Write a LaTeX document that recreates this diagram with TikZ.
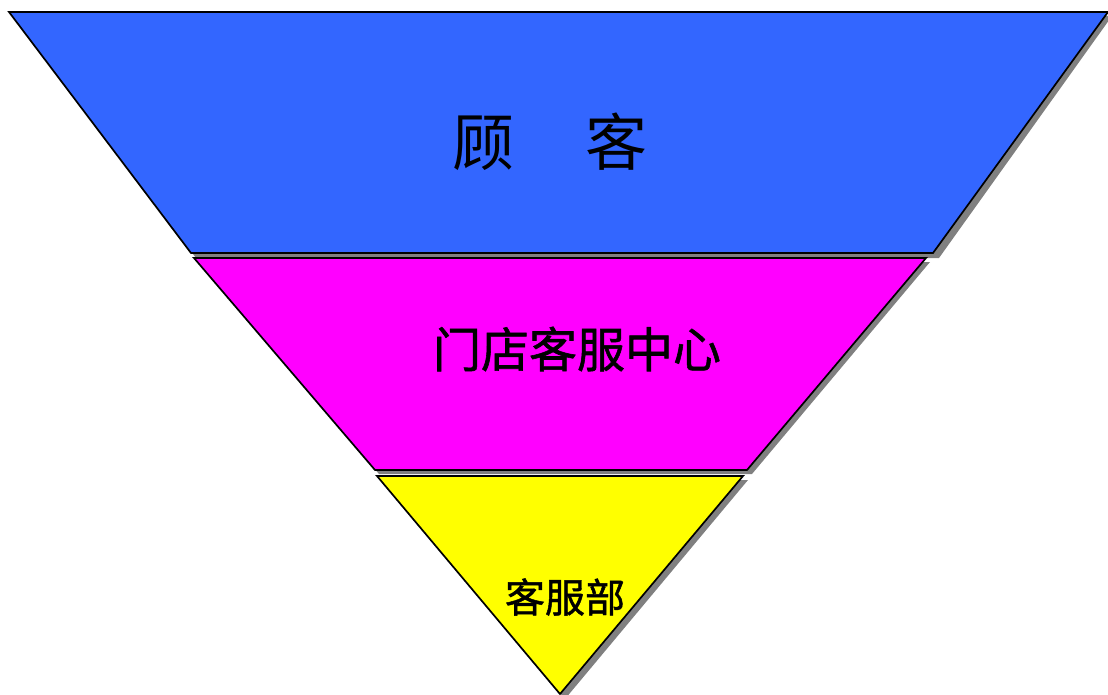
\documentclass[tikz,border=0pt]{standalone}
\usepackage{fontspec}
\newfontfamily\cjk{Noto Sans CJK SC}
\newfontfamily\cjkheavy[FakeBold=1.2]{Noto Sans CJK SC}
\definecolor{bandblue}{RGB}{51,102,255}
\definecolor{bandmag}{RGB}{255,0,255}
\definecolor{bandyel}{RGB}{255,255,0}
\definecolor{shadowgray}{RGB}{128,128,128}
\tikzset{
  band/.style={draw=black, line width=1.7pt, line join=miter},
  label/.style={text=black, inner sep=0pt}
}
\begin{document}
\begin{tikzpicture}[x=1pt,y=-1pt]
\useasboundingbox (0,0) rectangle (1108,695);
% shadows
\fill[shadowgray] (14,16) -- (1112,16) -- (939,258) -- (196,258) -- cycle;
\fill[shadowgray] (199,262) -- (930,262) -- (752,474) -- (379,474) -- cycle;
\fill[shadowgray] (381,480) -- (748,480) -- (565,699) -- cycle;
% bands
\filldraw[band, fill=bandblue] (9,12) -- (1108,12) -- (933,253) -- (191,253) -- cycle;
\filldraw[band, fill=bandmag] (194,258) -- (926,258) -- (747,470) -- (375,470) -- cycle;
\filldraw[band, fill=bandyel] (377,476) -- (743,476) -- (560,694) -- cycle;
% labels
\node[label, font=\cjk\fontsize{62}{62}\selectfont] (top) at (550,142) {顾\hspace{72pt}客};
\node[label, font=\cjkheavy\fontsize{48}{48}\selectfont] (mid) at (577,349) {门店客服中心};
\node[label, font=\cjkheavy\fontsize{40}{40}\selectfont] (bot) at (565,597) {客服部};
\end{tikzpicture}
\end{document}
